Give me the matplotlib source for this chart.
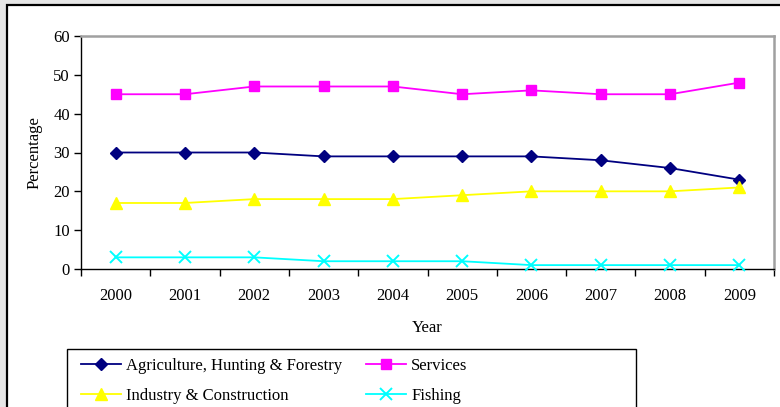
import matplotlib
matplotlib.use("Agg")
import matplotlib.pyplot as plt
from matplotlib.patches import Rectangle

plt.rcParams['font.family'] = ['Liberation Serif', 'DejaVu Serif']

years = ['2000', '2001', '2002', '2003', '2004', '2005', '2006', '2007', '2008', '2009']
agriculture = [30, 30, 30, 29, 29, 29, 29, 28, 26, 23]
services = [45, 45, 47, 47, 47, 45, 46, 45, 45, 48]
industry = [17, 17, 18, 18, 18, 19, 20, 20, 20, 21]
fishing = [3, 3, 3, 2, 2, 2, 1, 1, 1, 1]
yticks = [0, 10, 20, 30, 40, 50, 60]

W, H = 780, 407
FS = 12
fig = plt.figure(figsize=(W / 100, H / 100), dpi=100)
fig.patch.set_facecolor('#e6e6e6')

# chart frame
fig.patches.append(Rectangle((7 / W, -0.1), 1.2, 1.1 - 5 / H,
                             transform=fig.transFigure, facecolor='white',
                             edgecolor='black', linewidth=1.6, zorder=-10))

ax = fig.add_axes([81 / W, 1 - 269 / H, (774 - 81) / W, (269 - 36) / H])
ax.set_facecolor('white')

x = list(range(len(years)))
lw = 1.3
ax.plot(x, agriculture, color='#000080', marker='D', markersize=6.5, linewidth=lw,
        label='Agriculture, Hunting & Forestry', clip_on=False, zorder=3)
ax.plot(x, services, color='#ff00ff', marker='s', markersize=7, linewidth=lw,
        label='Services', clip_on=False, zorder=3)
ax.plot(x, industry, color='#ffff00', marker='^', markersize=8, linewidth=lw,
        label='Industry & Construction', clip_on=False, zorder=3)
ax.plot(x, fishing, color='#00ffff', marker='x', markersize=8, markeredgewidth=1.4,
        linewidth=lw, label='Fishing', clip_on=False, zorder=3)

ax.set_xlim(-0.5, len(years) - 0.5)
ax.set_ylim(0, 60)
ax.set_yticks(yticks)
ax.set_yticklabels([str(v) for v in yticks], fontsize=FS)
ax.set_xticks([i - 0.5 for i in range(len(years) + 1)])
ax.set_xticklabels([])
ax.set_xticks(x, minor=True)
ax.set_xticklabels(years, minor=True, fontsize=FS)
ax.tick_params(axis='x', which='major', direction='out', length=5, width=1, color='black')
ax.tick_params(axis='x', which='minor', length=0, pad=14)
ax.tick_params(axis='y', direction='out', length=5, width=1, color='black', pad=3)

for s in ['left', 'bottom']:
    ax.spines[s].set_color('black')
    ax.spines[s].set_linewidth(1.0)
for s in ['top', 'right']:
    ax.spines[s].set_color('#a0a0a0')
    ax.spines[s].set_linewidth(1.8)

ax.set_xlabel('Year', fontsize=FS, labelpad=11)
ax.set_ylabel('Percentage', fontsize=FS, labelpad=8)

# legend box
fig.patches.append(Rectangle((67 / W, -0.05), (636 - 67) / W, 0.05 + 1 - 349 / H,
                             transform=fig.transFigure, facecolor='white',
                             edgecolor='black', linewidth=1.0, zorder=1))
handles, labels = ax.get_legend_handles_labels()
order = [0, 2, 1, 3]
leg = fig.legend([handles[i] for i in order], [labels[i] for i in order],
                 loc='upper left', bbox_to_anchor=(76 / W, 1 - 353 / H), ncol=2,
                 frameon=False, fontsize=FS, handlelength=2.4, handletextpad=0.3,
                 columnspacing=1.45, labelspacing=0.85, borderaxespad=0, borderpad=0.3)
leg.set_zorder(2)

fig.savefig('out.png', dpi=100, facecolor=fig.get_facecolor())
